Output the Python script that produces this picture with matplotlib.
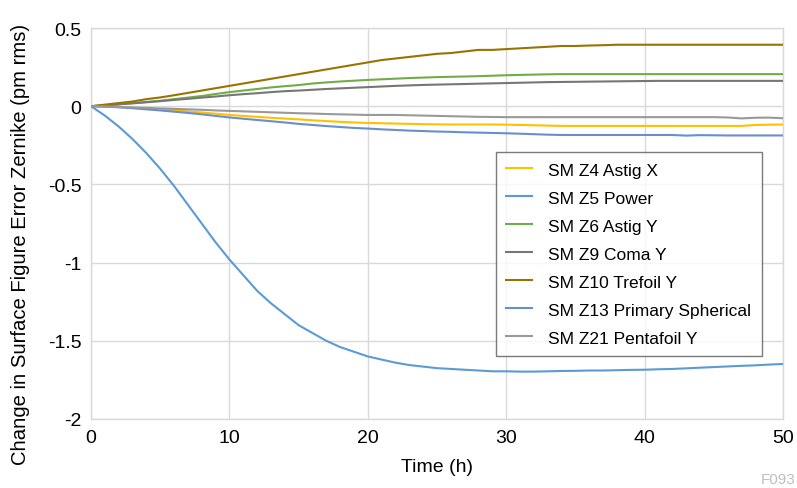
import matplotlib
matplotlib.use("Agg")
import matplotlib.pyplot as plt
from matplotlib import font_manager as fm

names = {f.name for f in fm.fontManager.ttflist}
fam = ["Liberation Sans Narrow", "Liberation Sans", "DejaVu Sans"] if "Liberation Sans Narrow" in names else ["Liberation Sans", "DejaVu Sans"]
plt.rcParams["font.family"] = fam

time_h = list(range(0, 51))

astig_x = [0, -0.002, -0.005, -0.01, -0.014, -0.019, -0.025, -0.033, -0.04, -0.048, -0.056,
           -0.062, -0.068, -0.074, -0.079, -0.084, -0.09, -0.095, -0.1, -0.104, -0.107,
           -0.109, -0.111, -0.113, -0.115, -0.116, -0.117, -0.117, -0.117, -0.117, -0.118,
           -0.12, -0.122, -0.124, -0.126, -0.126, -0.126, -0.126, -0.126, -0.126, -0.126,
           -0.126, -0.126, -0.126, -0.126, -0.126, -0.126, -0.126, -0.12, -0.118, -0.117]

power = [0, -0.06, -0.13, -0.21, -0.30, -0.40, -0.51, -0.63, -0.75, -0.87, -0.98,
         -1.08, -1.18, -1.26, -1.33, -1.40, -1.45, -1.50, -1.54, -1.57, -1.60,
         -1.62, -1.64, -1.655, -1.665, -1.675, -1.68, -1.685, -1.69, -1.695, -1.695,
         -1.697, -1.697, -1.695, -1.693, -1.692, -1.69, -1.69, -1.688, -1.686, -1.685,
         -1.682, -1.68, -1.676, -1.672, -1.668, -1.664, -1.66, -1.657, -1.652, -1.648]

astig_y = [0, 0.005, 0.012, 0.02, 0.027, 0.035, 0.045, 0.055, 0.065, 0.078, 0.09,
           0.1, 0.11, 0.12, 0.128, 0.135, 0.145, 0.152, 0.158, 0.163, 0.168,
           0.172, 0.176, 0.18, 0.183, 0.186, 0.188, 0.19, 0.192, 0.195, 0.198,
           0.2, 0.202, 0.204, 0.205, 0.205, 0.205, 0.205, 0.205, 0.205, 0.205,
           0.205, 0.205, 0.205, 0.205, 0.205, 0.205, 0.205, 0.205, 0.205, 0.205]

coma_y = [0, 0.005, 0.012, 0.018, 0.025, 0.032, 0.04, 0.047, 0.055, 0.062, 0.07,
          0.077, 0.083, 0.09, 0.096, 0.1, 0.105, 0.11, 0.114, 0.118, 0.122,
          0.126, 0.13, 0.133, 0.136, 0.138, 0.14, 0.142, 0.144, 0.146, 0.148,
          0.15, 0.152, 0.154, 0.155, 0.156, 0.157, 0.158, 0.159, 0.16, 0.161,
          0.162, 0.162, 0.162, 0.162, 0.162, 0.162, 0.162, 0.162, 0.162, 0.162]

trefoil_y = [0, 0.01, 0.02, 0.03, 0.045, 0.056, 0.07, 0.085, 0.1, 0.115, 0.13,
             0.145, 0.16, 0.175, 0.19, 0.205, 0.22, 0.235, 0.25, 0.265, 0.28,
             0.295, 0.305, 0.315, 0.325, 0.335, 0.34, 0.35, 0.36, 0.36, 0.365,
             0.37, 0.375, 0.38, 0.385, 0.385, 0.388, 0.39, 0.393, 0.393, 0.393,
             0.393, 0.393, 0.393, 0.393, 0.393, 0.393, 0.393, 0.393, 0.393, 0.393]

spherical = [0, -0.003, -0.007, -0.013, -0.02, -0.027, -0.035, -0.043, -0.052, -0.062, -0.072,
             -0.08, -0.088, -0.096, -0.104, -0.113, -0.12, -0.127, -0.133, -0.139, -0.143,
             -0.148, -0.152, -0.156, -0.159, -0.162, -0.164, -0.167, -0.169, -0.171, -0.173,
             -0.176, -0.179, -0.182, -0.184, -0.184, -0.184, -0.184, -0.184, -0.184, -0.184,
             -0.184, -0.184, -0.188, -0.185, -0.186, -0.187, -0.187, -0.187, -0.187, -0.187]

pentafoil_y = [0, -0.002, -0.005, -0.008, -0.011, -0.014, -0.017, -0.02, -0.023, -0.027, -0.03,
               -0.033, -0.036, -0.039, -0.042, -0.045, -0.047, -0.05, -0.052, -0.054, -0.056,
               -0.056, -0.056, -0.058, -0.06, -0.062, -0.064, -0.066, -0.068, -0.069, -0.07,
               -0.07, -0.07, -0.07, -0.07, -0.07, -0.07, -0.07, -0.07, -0.07, -0.07,
               -0.07, -0.07, -0.07, -0.07, -0.07, -0.072, -0.078, -0.074, -0.073, -0.077]

series_names = ["SM Z4 Astig X", "SM Z5 Power", "SM Z6 Astig Y", "SM Z9 Coma Y",
                "SM Z10 Trefoil Y", "SM Z13 Primary Spherical", "SM Z21 Pentafoil Y"]
series_values = [astig_x, power, astig_y, coma_y, trefoil_y, spherical, pentafoil_y]
colors = ["#FFC000", "#5B9BD5", "#70AD47", "#767676", "#997300", "#698ED0", "#999999"]

x_ticks = [0, 10, 20, 30, 40, 50]
y_ticks = [0.5, 0, -0.5, -1, -1.5, -2]
y_tick_labels = ["0.5", "0", "-0.5", "-1", "-1.5", "-2"]

fig = plt.figure(figsize=(7.97, 4.89), dpi=100)
ax = fig.add_axes([91 / 797, 1 - 420 / 489, (783 - 91) / 797, (420 - 29) / 489])

for name, vals, c in zip(series_names, series_values, colors):
    ax.plot(time_h, vals, color=c, lw=1.5, label=name, zorder=3)

ax.set_xlim(0, 50)
ax.set_ylim(-2, 0.5)
ax.set_xticks(x_ticks)
ax.set_yticks(y_ticks)
ax.set_yticklabels(y_tick_labels)
ax.grid(True, color="#D9D9D9", lw=1)
ax.set_axisbelow(True)
for s in ax.spines.values():
    s.set_color("#D9D9D9")
    s.set_linewidth(1)
ax.tick_params(length=0, labelsize=14, colors="#000000", pad=7)
ax.set_xlabel("Time (h)", fontsize=14, labelpad=9)
ax.set_ylabel("Change in Surface Figure Error Zernike (pm rms)", fontsize=14.6)
ax.yaxis.set_label_coords(-0.088, (420 - 244) / 391)

leg = ax.legend(loc="upper left", bbox_to_anchor=((496 - 91) / 692, 1 - (153 - 29) / 391),
                fontsize=12.5, frameon=True, fancybox=False, borderpad=0.6,
                labelspacing=0.74, handlelength=1.5, handletextpad=0.9, borderaxespad=0)
leg.get_frame().set_edgecolor("#595959")
leg.get_frame().set_linewidth(1)

fig.text(795 / 797, 1 - 480 / 489, "F093", ha="right", va="center", fontsize=11, color="#BFBFBF")

fig.savefig("out.png", dpi=100)
